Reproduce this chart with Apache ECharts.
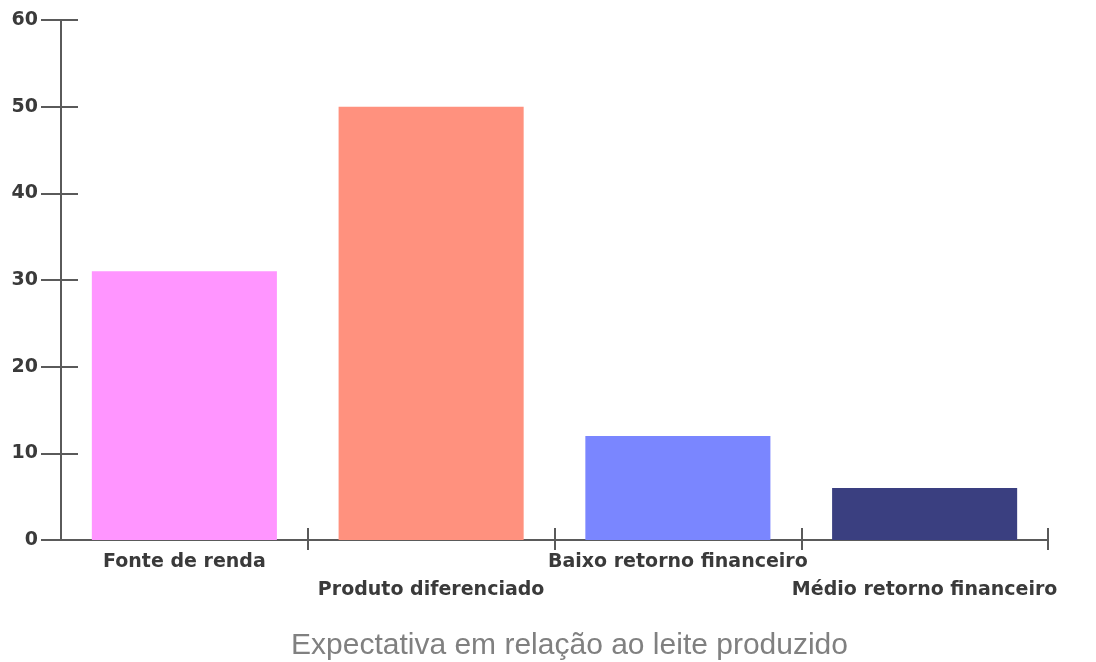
<!DOCTYPE html>
<html>
<head>
<meta charset="utf-8">
<script src="https://cdn.jsdelivr.net/npm/echarts@6/dist/echarts.min.js"></script>
<style>
html,body{margin:0;padding:0;background:#fff;}
#c{width:1096px;height:662px;}
</style>
</head>
<body>
<div id="c"></div>
<script>
const categories = ["Fonte de renda", "Produto diferenciado", "Baixo retorno financeiro", "Médio retorno financeiro"];
const values = [31, 50, 12, 6];
const barColors = ["#FF95FF", "#FF917E", "#7A86FF", "#3A3F80"];
const yTicks = [0, 10, 20, 30, 40, 50, 60];
const titleText = "Expectativa em relação ao leite produzido";

const chart = echarts.init(document.getElementById('c'), null, {renderer: 'canvas'});
const axisColor = '#5a5a5a';
const labelFont = {fontFamily: 'DejaVu Sans', fontWeight: 'bold', fontSize: 19, color: '#3a3a3a'};

chart.setOption({
  animation: false,
  backgroundColor: '#ffffff',
  title: {
    text: titleText,
    left: 286,
    top: 626,
    textStyle: {fontFamily: 'Liberation Sans', fontWeight: 'normal', fontSize: 30, color: '#808080'}
  },
  grid: {left: 61, right: 48, top: 20, bottom: 122, containLabel: false},
  xAxis: [{
    type: 'category',
    data: categories,
    boundaryGap: true,
    axisLine: {lineStyle: {color: axisColor, width: 2}},
    axisTick: {show: true, length: 10, interval: function (i) { return i !== 0; }, lineStyle: {color: axisColor, width: 2}},
    axisLabel: Object.assign({
      interval: 0,
      margin: 8,
      lineHeight: 28,
      hideOverlap: false,
      formatter: function (v, i) { return i % 2 === 1 ? '\n' + v : v; }
    }, labelFont),
    splitLine: {show: false}
  }, {
    type: 'category',
    data: categories,
    position: 'bottom',
    boundaryGap: true,
    axisLine: {show: false},
    axisTick: {show: true, inside: true, length: 12, interval: function (i) { return i !== 0; }, lineStyle: {color: axisColor, width: 2}},
    axisLabel: {show: false},
    splitLine: {show: false}
  }],
  yAxis: [{
    type: 'value',
    min: yTicks[0],
    max: yTicks[yTicks.length - 1],
    interval: 10,
    axisLine: {show: true, lineStyle: {color: axisColor, width: 2}},
    axisTick: {show: true, length: 20, lineStyle: {color: axisColor, width: 2}},
    axisLabel: Object.assign({margin: 23}, labelFont),
    splitLine: {show: false}
  }, {
    type: 'value',
    position: 'left',
    min: yTicks[0],
    max: yTicks[yTicks.length - 1],
    interval: 10,
    axisLine: {show: false},
    axisTick: {show: true, inside: true, length: 17, lineStyle: {color: axisColor, width: 2}},
    axisLabel: {show: false},
    splitLine: {show: false}
  }],
  series: [{
    type: 'bar',
    xAxisIndex: 0,
    yAxisIndex: 0,
    barWidth: '75%',
    data: values.map((v, i) => ({value: v, itemStyle: {color: barColors[i]}})),
    z: 1
  }]
});
</script>
</body>
</html>
